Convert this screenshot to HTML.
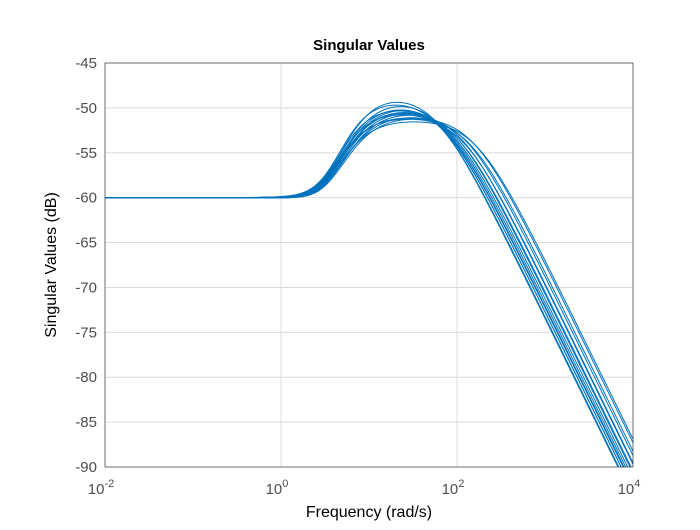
<!DOCTYPE html>
<html><head><meta charset="utf-8"><style>
body{margin:0;background:#fff;}
svg text{font-family:"Liberation Sans",sans-serif;}
</style></head><body>
<svg id="chart" width="700" height="525" viewBox="0 0 700 525">
<rect width="700" height="525" fill="#fff"/>
<g id="grid"></g>
<g id="curves"></g>
<rect x="105" y="63" width="528" height="404" fill="none" stroke="#262626" stroke-width="0.6"/>
<g id="ticks"></g>
<text x="369" y="50" text-anchor="middle" font-size="15" font-weight="bold" fill="#000">Singular Values</text>
<text x="369" y="517" text-anchor="middle" font-size="16" fill="#000">Frequency (rad/s)</text>
<text transform="translate(56,265) rotate(-90)" text-anchor="middle" font-size="16" fill="#000">Singular Values (dB)</text>
</svg>
<script>
const yTicks=[-45,-50,-55,-60,-65,-70,-75,-80,-85,-90];
const xTickExps=[-2,0,2,4];
const dcGain=[-60,-60,-60,-60,-60,-60,-60,-60,-60,-60,-60,-60,-60,-60,-60,-60];
const zeroFreq=[3.2,3.2,3.1,3.3,3.2,3.2,3.1,3.3,3.2,3.2,3.3,3.1,3.2,3.2,3.3,3.2];
const poleFreq=[6.3,6.1,5.9,6.1,5.9,5.8,5.6,5.9,5.7,5.6,5.8,5.3,5.5,5.4,5.6,5.3];
const zeroDamp=[0.8,0.8,0.8,0.8,0.8,0.8,0.8,0.8,0.8,0.8,0.8,0.8,0.8,0.8,0.8,0.8];
const poleDamp=[0.95,0.9,1.0,0.95,1.0,0.9,1.0,0.95,1.0,0.9,1.0,0.95,1.0,0.9,1.0,0.95];
const rollFreq=[55,60,64,68,72,76,80,86,92,98,106,114,124,136,150,165];
const X0=105,X1=633,Y0=63,Y1=467;
const xs=e=>X0+(e+2)/6*(X1-X0);
const ys=v=>Y0+(-45-v)/45*(Y1-Y0);
const NS="http://www.w3.org/2000/svg";
const grid=document.getElementById('grid'),ticks=document.getElementById('ticks'),cg=document.getElementById('curves');
function mk(t,a,p){const e=document.createElementNS(NS,t);for(const k in a)e.setAttribute(k,a[k]);p.appendChild(e);return e;}
yTicks.forEach(v=>{
 const l=mk('line',{x1:X0,x2:X1,y1:ys(v),y2:ys(v),stroke:'#dcdcdc','stroke-width':1},grid);
 
 
 const t=mk('text',{x:X0-8,y:ys(v)+5,'text-anchor':'end','font-size':15,fill:'#4d4d4d'},ticks);
 t.textContent=v;
 
 
});
xTickExps.forEach(e=>{
 const l=mk('line',{x1:xs(e),x2:xs(e),y1:Y0,y2:Y1,stroke:'#dcdcdc','stroke-width':1},grid);
 
 
 const t=mk('text',{x:xs(e)-4,y:494,'text-anchor':'middle','font-size':15,fill:'#4d4d4d'},ticks);
 t.innerHTML='10<tspan dy="-7" font-size="11">'+e+'</tspan>';
 
 
});
const clip=mk('clipPath',{id:'pc'},document.getElementById('chart'));
mk('rect',{x:X0,y:Y0,width:X1-X0,height:Y1-Y0},clip);
cg.setAttribute('clip-path','url(#pc)');
function so(w,wn,z){const u=w/wn;return 10*Math.log10((1-u*u)**2+(2*z*u)**2);}
zeroFreq.forEach((z,i)=>{
 let d='';
 for(let k=0;k<=360;k++){
  const e=-2+6*k/360,w=Math.pow(10,e);
  const v=dcGain[i]+so(w,z,zeroDamp[i])-so(w,poleFreq[i],poleDamp[i])-10*Math.log10(1+(w/rollFreq[i])**2);
  d+=(k?'L':'M')+xs(e).toFixed(1)+' '+ys(v).toFixed(1);
 }
 const p=mk('path',{d:d,fill:'none',stroke:'#0072BD','stroke-width':1},cg);
 
 
});
</script>
</body></html>
